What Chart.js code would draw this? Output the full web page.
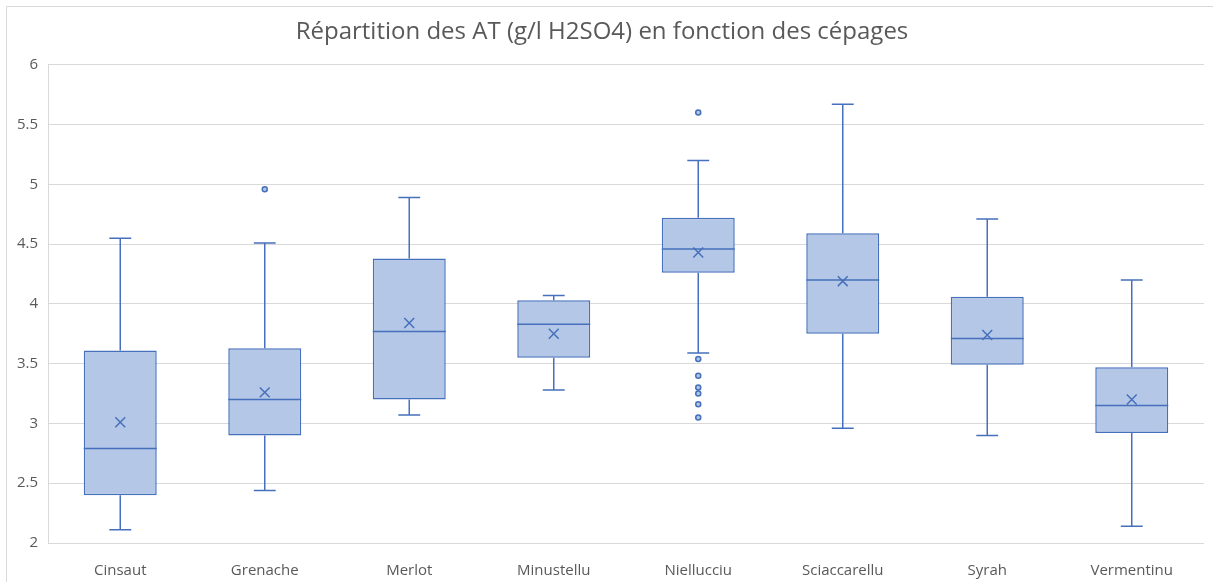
<!DOCTYPE html>
<html>
<head>
<meta charset="utf-8">
<script src="https://cdn.jsdelivr.net/npm/chart.js@4"></script>
<style>
  html, body { margin: 0; padding: 0; background: #fff; }
  #wrap { position: relative; width: 1213px; height: 582px; }
</style>
</head>
<body>
<div id="wrap"><canvas id="chart"></canvas></div>
<script>
const categories = ["Cinsaut", "Grenache", "Merlot", "Minustellu", "Niellucciu", "Sciaccarellu", "Syrah", "Vermentinu"];
const whiskerLow  = [2.11, 2.44, 3.07, 3.28, 3.59, 2.96, 2.90, 2.14];
const q1          = [2.40, 2.90, 3.20, 3.55, 4.26, 3.75, 3.49, 2.92];
const medians     = [2.79, 3.20, 3.77, 3.83, 4.46, 4.20, 3.71, 3.15];
const q3          = [3.61, 3.63, 4.38, 4.03, 4.72, 4.59, 4.06, 3.47];
const whiskerHigh = [4.55, 4.51, 4.89, 4.07, 5.20, 5.67, 4.71, 4.20];
const means       = [3.01, 3.26, 3.84, 3.75, 4.43, 4.19, 3.74, 3.20];
const outliers = {
  Grenache: [4.96],
  Niellucciu: [5.60, 3.54, 3.40, 3.30, 3.25, 3.16, 3.05],
};
const yTicks = [2, 2.5, 3, 3.5, 4, 4.5, 5, 5.5, 6];
const yTickLabels = ["2", "2.5", "3", "3.5", "4", "4.5", "5", "5.5", "6"];

const BLUE = "#4670bb";
const FILL = "#b4c7e7";
const GRID = "#d9d9d9";
const TEXT = "#595959";
const FONT = "'Open Sans', Lato, sans-serif";

const outlierPoints = [];
for (const cat of Object.keys(outliers)) {
  outliers[cat].forEach(v => outlierPoints.push({ x: cat, y: v }));
}

// whiskers, caps and medians, placed through the scales
const boxParts = {
  id: "boxParts",
  beforeDatasetsDraw(chart) {
    const { ctx } = chart;
    const y = chart.scales.y;
    const meta = chart.getDatasetMeta(0);
    ctx.save();
    ctx.strokeStyle = BLUE;
    ctx.lineWidth = 1.5;
    meta.data.forEach((bar, i) => {
      const cx = bar.x;
      const cap = bar.width * 0.3;
      const lo = y.getPixelForValue(whiskerLow[i]);
      const hi = y.getPixelForValue(whiskerHigh[i]);
      const b = y.getPixelForValue(q1[i]);
      const t = y.getPixelForValue(q3[i]);
      ctx.beginPath();
      ctx.moveTo(cx, lo); ctx.lineTo(cx, b);
      ctx.moveTo(cx, t); ctx.lineTo(cx, hi);
      ctx.moveTo(cx - cap / 2, lo); ctx.lineTo(cx + cap / 2, lo);
      ctx.moveTo(cx - cap / 2, hi); ctx.lineTo(cx + cap / 2, hi);
      ctx.stroke();
    });
    ctx.restore();
  },
  afterDatasetDraw(chart, args) {
    if (args.index !== 0) return;
    const { ctx } = chart;
    const y = chart.scales.y;
    ctx.save();
    ctx.strokeStyle = BLUE;
    ctx.lineWidth = 1.5;
    args.meta.data.forEach((bar, i) => {
      const m = y.getPixelForValue(medians[i]);
      ctx.beginPath();
      ctx.moveTo(bar.x - bar.width / 2, m);
      ctx.lineTo(bar.x + bar.width / 2, m);
      ctx.stroke();
    });
    ctx.restore();
  },
  beforeDraw(chart) {
    const { ctx } = chart;
    ctx.save();
    ctx.strokeStyle = GRID;
    ctx.lineWidth = 1;
    ctx.beginPath();
    ctx.moveTo(6.5, chart.height);
    ctx.lineTo(6.5, 6.5);
    ctx.lineTo(chart.width, 6.5);
    ctx.stroke();
    ctx.restore();
  },
};

new Chart(document.getElementById("chart"), {
  type: "bar",
  data: {
    labels: categories,
    datasets: [
      {
        label: "Boîte",
        data: categories.map((_, i) => [q1[i], q3[i]]),
        backgroundColor: FILL,
        borderColor: BLUE,
        borderWidth: 1.5,
        borderSkipped: false,
        barPercentage: 0.505,
        categoryPercentage: 1,
        order: 3,
      },
      {
        type: "line",
        label: "Moyenne",
        data: means,
        showLine: false,
        pointStyle: "crossRot",
        pointRadius: 7,
        borderColor: BLUE,
        borderWidth: 1.5,
        order: 1,
      },
      {
        type: "line",
        label: "Valeurs aberrantes",
        data: outlierPoints,
        showLine: false,
        pointStyle: "circle",
        pointRadius: 2.5,
        backgroundColor: FILL,
        borderColor: BLUE,
        borderWidth: 1.5,
        order: 2,
      },
    ],
  },
  options: {
    responsive: true,
    maintainAspectRatio: false,
    animation: false,
    layout: { padding: { right: 9, left: 0, bottom: 0, top: 0 } },
    plugins: {
      legend: { display: false },
      tooltip: { enabled: false },
      title: {
        display: true,
        text: "Répartition des AT (g/l H2SO4) en fonction des cépages",
        color: TEXT,
        font: { family: FONT, size: 24, weight: "normal" },
        padding: { top: 18, bottom: 18 },
      },
    },
    scales: {
      x: {
        grid: { display: false },
        border: { display: false },
        ticks: { color: TEXT, font: { family: FONT, size: 15 }, padding: 11 },
        afterFit(axis) { axis.height = 39; },
      },
      y: {
        min: 2,
        max: 6,
        afterBuildTicks(axis) { axis.ticks = yTicks.map(v => ({ value: v })); },
        grid: { color: GRID, lineWidth: 1, drawTicks: false },
        border: { display: true, color: GRID },
        ticks: {
          color: TEXT,
          font: { family: FONT, size: 15 },
          padding: 10,
          callback: (v, i) => yTickLabels[i],
        },
        afterFit(axis) { axis.width = 48; },
      },
    },
  },
  plugins: [boxParts],
});
</script>
</body>
</html>
